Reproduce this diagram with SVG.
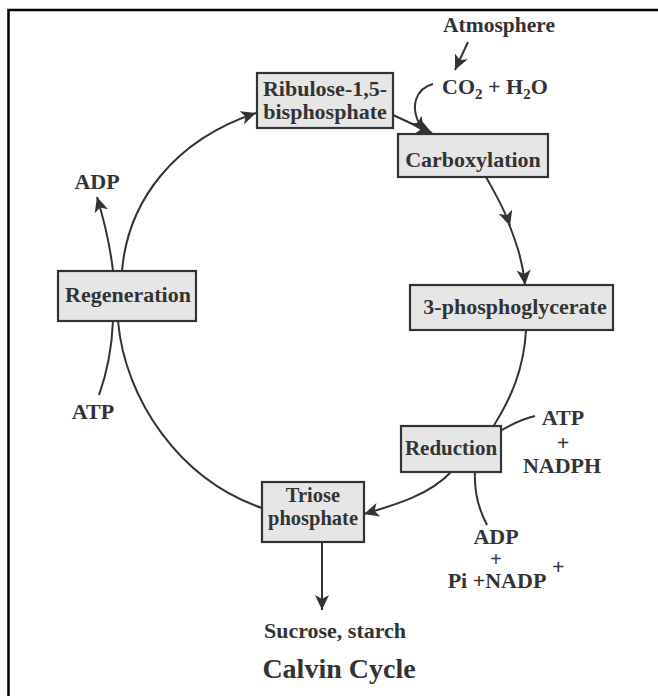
<svg xmlns="http://www.w3.org/2000/svg" width="658" height="696" viewBox="0 0 658 696">
<style>
.box{fill:#e6e6e6;stroke:#333;stroke-width:2.2}
.t{font-family:"Liberation Serif","Times New Roman",serif;font-weight:bold;fill:#333;text-anchor:middle;font-size:22px}
.s{text-anchor:start}
.ln{fill:none;stroke:#333;stroke-width:2}
.ar{fill:none;stroke:#333;stroke-width:2;marker-end:url(#ah)}
</style>
<defs>
<marker id="ah" markerUnits="userSpaceOnUse" markerWidth="16" markerHeight="14" viewBox="0 0 16 14" refX="15" refY="7" orient="auto">
<path d="M0,0 L15,7 L0,14 L4,7 z" fill="#333"/>
</marker>
</defs>
<rect width="658" height="696" fill="#fff"/>
<path d="M8.5,696 V10 H658" fill="none" stroke="#000" stroke-width="2.5"/>

<g id="connectors">
<path class="ar" d="M122,271 C128,200 175,140 256,113"/>
<path class="ar" d="M393,115 L432,133"/>
<path class="ar" d="M433,84 C418,88 406,105 424,132"/>
<path class="ar" d="M468,42 L455,70"/>
<path class="ar" d="M486,177 C496,195 505,210 510,226"/>
<path class="ar" d="M509,224 C517,245 523,262 525,285"/>
<path class="ln" d="M526,330 C524,370 510,400 493,427"/>
<path class="ar" d="M452,471 C430,495 395,505 364,514"/>
<path class="ln" d="M118,321 C125,400 180,480 262,508"/>
<path class="ar" d="M322,542 L322,610"/>
<path class="ar" d="M113,271 C110,245 104,220 97,197"/>
<path class="ln" d="M99,395 C108,370 112,345 113,321"/>
<path class="ln" d="M500,431 C512,424 522,419 535,416"/>
<path class="ln" d="M475,471 C474,490 478,508 487,525"/>
</g>

<g id="ribulose">
<rect class="box" x="257" y="73" width="136" height="55"/>
<text class="t" x="325" y="96">Ribulose-1,5-</text>
<text class="t" x="325" y="119">bisphosphate</text>
</g>
<g id="carboxylation">
<rect class="box" x="398" y="134" width="150" height="43"/>
<text class="t" x="473" y="167">Carboxylation</text>
</g>
<g id="pga">
<rect class="box" x="410" y="285" width="203" height="45"/>
<text class="t" x="515" y="314">3-phosphoglycerate</text>
</g>
<g id="reduction">
<rect class="box" x="401" y="426" width="100" height="46"/>
<text class="t" x="451" y="455" style="font-size:21px">Reduction</text>
</g>
<g id="triose">
<rect class="box" x="262" y="482" width="102" height="60"/>
<text class="t" x="313" y="502" style="font-size:20.5px">Triose</text>
<text class="t" x="313" y="525" style="font-size:20.5px">phosphate</text>
</g>
<g id="regeneration">
<rect class="box" x="58" y="271" width="138" height="50"/>
<text class="t" x="128" y="302">Regeneration</text>
</g>

<g id="atmosphere"><text class="t" x="499" y="32" style="font-size:21.5px">Atmosphere</text></g>
<g id="co2"><text class="t s" x="442" y="94">CO<tspan font-size="15" dy="5">2</tspan><tspan dy="-5"> + H</tspan><tspan font-size="15" dy="5">2</tspan><tspan dy="-5">O</tspan></text></g>
<g id="adp-left"><text class="t" x="97" y="189">ADP</text></g>
<g id="atp-left"><text class="t" x="93" y="419">ATP</text></g>
<g id="atp-nadph">
<text class="t" x="563" y="425">ATP</text>
<text class="t" x="563" y="450">+</text>
<text class="t" x="562" y="473">NADPH</text>
</g>
<g id="adp-nadp">
<text class="t" x="496" y="544">ADP</text>
<text class="t" x="496" y="566" style="font-size:20px">+</text>
<text class="t" x="497" y="588">Pi +NADP</text>
<text class="t s" x="552" y="574">+</text>
</g>
<g id="sucrose"><text class="t" x="335" y="638">Sucrose, starch</text></g>
<g id="title"><text class="t" x="339" y="678" style="font-size:28px">Calvin Cycle</text></g>
</svg>
